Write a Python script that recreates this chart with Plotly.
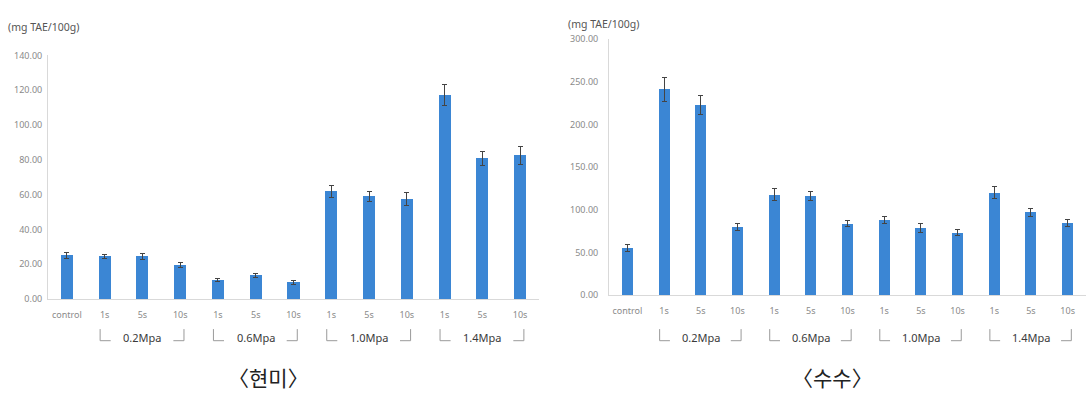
import plotly.graph_objects as go

# Category labels along each x axis
tick_labels_brown = ["control", "1s", "5s", "10s", "1s", "5s", "10s", "1s", "5s", "10s", "1s", "5s", "10s"]
tick_labels_sorghum = ["control", "1s", "5s", "10s", "1s", "5s", "10s", "1s", "5s", "10s", "1s", "5s", "10s"]

# Pressure groups (first index, last index, label)
pressure_groups = [(1, 3, "0.2Mpa"), (4, 6, "0.6Mpa"), (7, 9, "1.0Mpa"), (10, 12, "1.4Mpa")]

# Total phenolic content (mg TAE/100g) and standard deviations
brown_rice = [25.0, 24.5, 24.5, 19.5, 11.0, 13.5, 9.5, 62.0, 59.0, 57.5, 117.0, 81.0, 82.5]
brown_rice_sd = [1.5, 1.2, 1.5, 1.3, 0.8, 1.2, 1.0, 3.5, 3.0, 3.5, 6.0, 4.0, 5.0]

sorghum = [55.0, 241.0, 223.0, 80.0, 118.0, 116.0, 84.0, 88.0, 78.5, 73.5, 120.0, 97.0, 85.0]
sorghum_sd = [4.0, 14.0, 11.0, 4.0, 7.0, 5.0, 4.0, 4.0, 5.0, 3.0, 7.0, 5.0, 4.0]

panel_titles = ["〈현미〉", "〈수수〉"]
unit_label = "(mg TAE/100g)"

BAR = "#3b86d4"
W, H = 1086, 397

fig = go.Figure()

idx = list(range(len(brown_rice)))
fig.add_trace(go.Bar(
    x=idx, y=brown_rice, width=0.32, marker=dict(color=BAR, line=dict(width=0)),
    error_y=dict(type="data", array=brown_rice_sd, color="#444", thickness=1, width=2.5),
    xaxis="x", yaxis="y", showlegend=False,
))
fig.add_trace(go.Bar(
    x=idx, y=sorghum, width=0.3, marker=dict(color=BAR, line=dict(width=0)),
    error_y=dict(type="data", array=sorghum_sd, color="#444", thickness=1, width=2.5),
    xaxis="x2", yaxis="y2", showlegend=False,
))

tick_font = dict(family="Noto Sans, sans-serif", size=9, color="#8a8a8a")
axis_common = dict(showgrid=False, zeroline=False, showline=True, linecolor="#d9d9d9",
                   linewidth=1, ticks="", tickfont=tick_font)

fig.update_layout(
    width=W, height=H,
    margin=dict(l=0, r=0, t=0, b=0),
    paper_bgcolor="white", plot_bgcolor="white",
    bargap=0,
    xaxis=dict(domain=[48 / W, 539 / W], range=[-0.5, 12.5], tickvals=idx,
               ticktext=tick_labels_brown, anchor="y", ticklabelstandoff=7, **axis_common),
    yaxis=dict(domain=[1 - 302 / H, 1 - 50 / H], range=[0, 140], dtick=20,
               tickformat=".2f", anchor="x", ticklabelstandoff=3, **axis_common),
    xaxis2=dict(domain=[609 / W, 1086 / W], range=[-0.5, 12.5], tickvals=idx,
                ticktext=tick_labels_sorghum, anchor="y2", ticklabelstandoff=7, **axis_common),
    yaxis2=dict(domain=[1 - 298 / H, 1 - 33 / H], range=[0, 300], dtick=50,
                tickformat=".2f", anchor="x2", ticklabelstandoff=8, **axis_common),
)

annotations = []
shapes = []
group_y = 1 - 342 / H
br_top = 1 - 333 / H
br_bot = 1 - 345 / H
for xref in ("x", "x2"):
    for start, end, label in pressure_groups:
        mid = (start + end) / 2
        annotations.append(dict(x=mid, y=group_y, xref=xref, yref="paper", text=label,
                                showarrow=False, xanchor="center", yanchor="middle",
                                font=dict(family="Noto Sans, sans-serif", size=11, color="#3a3a3a")))
        lx = start - 0.12
        rx = end + 0.1
        shapes.append(dict(type="path", xref=xref, yref="paper",
                           path=f"M {lx},{br_top} L {lx},{br_bot} L {lx + 0.28},{br_bot}",
                           line=dict(color="#9a9a9a", width=1)))
        shapes.append(dict(type="path", xref=xref, yref="paper",
                           path=f"M {rx - 0.28},{br_bot} L {rx},{br_bot} L {rx},{br_top}",
                           line=dict(color="#9a9a9a", width=1)))

# Unit labels above each y axis
annotations.append(dict(x=6 / W, y=1 - 21 / H, xref="paper", yref="paper", text=unit_label,
                        showarrow=False, xanchor="left", yanchor="middle",
                        font=dict(family="Noto Sans, sans-serif", size=10.5, color="#555")))
annotations.append(dict(x=566 / W, y=1 - 18 / H, xref="paper", yref="paper", text=unit_label,
                        showarrow=False, xanchor="left", yanchor="middle",
                        font=dict(family="Noto Sans, sans-serif", size=10.5, color="#555")))

# Panel captions below the charts
for cx, title in zip((268 / W, 832 / W), panel_titles):
    annotations.append(dict(x=cx, y=1 - 383 / H, xref="paper", yref="paper", text=title,
                            showarrow=False, xanchor="center", yanchor="middle",
                            font=dict(family="Noto Sans CJK KR", size=21, color="#222")))

fig.update_layout(annotations=annotations, shapes=shapes)

fig.write_html("out.html")
